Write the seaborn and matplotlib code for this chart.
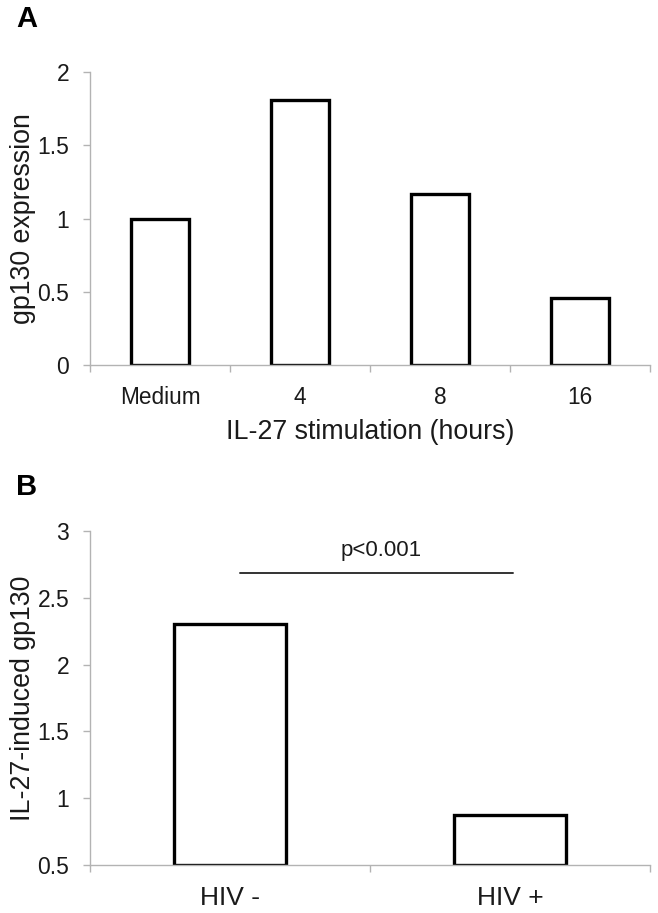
import matplotlib
matplotlib.use("Agg")
import matplotlib.pyplot as plt
import seaborn as sns
import pandas as pd
from matplotlib.ticker import FixedLocator

# ---- data ----
a_categories = ["Medium", "4", "8", "16"]
a_values = [1.0, 1.81, 1.17, 0.455]
a_yticks = [0, 0.5, 1, 1.5, 2]
a_yticklabels = ["0", "0.5", "1", "1.5", "2"]

b_categories = ["HIV -", "HIV +"]
b_values = [2.305, 0.875]
b_yticks = [0.5, 1, 1.5, 2, 2.5, 3]
b_yticklabels = ["0.5", "1", "1.5", "2", "2.5", "3"]
b_baseline = 0.5
sig_text = "p<0.001"
sig_y = 2.685

sns.set_theme(style="white")
plt.rcParams["font.family"] = ["Liberation Sans", "DejaVu Sans"]

TXT = "#1a1a1a"
GRAY = "#b3b3b3"

fig = plt.figure(figsize=(6.58, 9.13), dpi=100)
ax_a = fig.add_axes([0.1368, 0.6002, 0.851, 0.3209])
ax_b = fig.add_axes([0.1368, 0.0526, 0.851, 0.3658])

dfa = pd.DataFrame({"cat": a_categories, "val": a_values})
dfb = pd.DataFrame({"cat": b_categories, "val": b_values})

sns.barplot(data=dfa, x="cat", y="val", ax=ax_a, color="white", edgecolor="black",
            linewidth=2.4, width=0.41, saturation=1)
sns.barplot(data=dfb, x="cat", y="val", ax=ax_b, color="white", edgecolor="black",
            linewidth=2.4, width=0.40, saturation=1)
# bars in panel B start at the axis baseline
for p in ax_b.patches:
    h = p.get_height()
    p.set_y(b_baseline)
    p.set_height(h - b_baseline)


def style(ax, n, yticks, yticklabels, ylim, xfs):
    ax.set_xlim(-0.5, n - 0.5)
    ax.set_ylim(*ylim)
    ax.set_yticks(yticks)
    ax.set_yticklabels(yticklabels)
    for s in ["top", "right"]:
        ax.spines[s].set_visible(False)
    for s in ["left", "bottom"]:
        ax.spines[s].set_color(GRAY)
        ax.spines[s].set_linewidth(1.0)
    ax.xaxis.set_minor_locator(FixedLocator([i - 0.5 for i in range(n + 1)]))
    ax.tick_params(axis="x", which="major", length=0, pad=15, labelsize=xfs, labelcolor=TXT)
    ax.tick_params(axis="x", which="minor", length=5, width=1.0, color=GRAY, direction="out", bottom=True)
    ax.tick_params(axis="y", which="major", length=5, width=1.0, color=GRAY, direction="out",
                   left=True, pad=10, labelsize=16.5, labelcolor=TXT)
    ax.set_facecolor("white")


style(ax_a, 4, a_yticks, a_yticklabels, (0, 2), 16.3)
style(ax_b, 2, b_yticks, b_yticklabels, (0.5, 3), 19)

ax_a.set_xlabel("IL-27 stimulation (hours)", fontsize=19.3, color=TXT, labelpad=7)
ax_a.set_ylabel("gp130 expression", fontsize=19.3, color=TXT, labelpad=1)
ax_b.set_xlabel("")
ax_b.set_ylabel("IL-27-induced gp130", fontsize=19.3, color=TXT, labelpad=1)

# significance bar
ax_b.plot([0.036, 1.011], [sig_y, sig_y], color="#333333", lw=1.4)
ax_b.text(0.54, sig_y + 0.09, sig_text, ha="center", va="bottom", fontsize=16, color=TXT)

fig.text(0.025, 0.994, "A", fontsize=21, fontweight="bold", va="top", ha="left", color="black")
fig.text(0.025, 0.482, "B", fontsize=21, fontweight="bold", va="top", ha="left", color="black")

fig.savefig("out.png", dpi=100, facecolor="white")
